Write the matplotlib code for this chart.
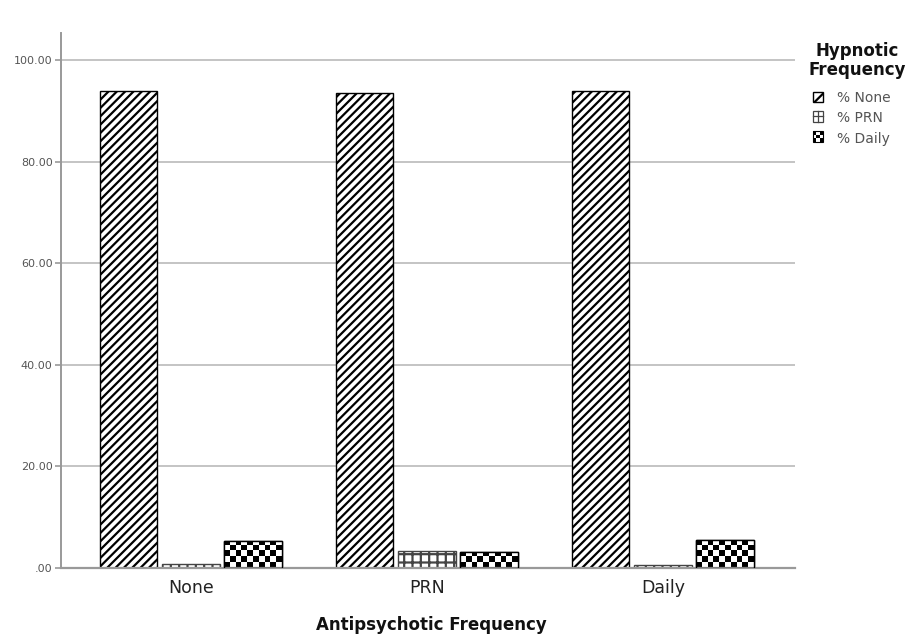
import numpy as np
import matplotlib
matplotlib.use("Agg")
import matplotlib.pyplot as plt
from matplotlib.patches import Rectangle
from matplotlib.lines import Line2D
from matplotlib.legend_handler import HandlerBase

groups = ["None", "PRN", "Daily"]
series = ["% None", "% PRN", "% Daily"]
pct_none = [93.9, 93.5, 94.0]
pct_prn = [0.8, 3.4, 0.5]
pct_daily = [5.3, 3.1, 5.5]
yticks = [0, 20, 40, 60, 80, 100]
ytick_labels = [".00", "20.00", "40.00", "60.00", "80.00", "100.00"]

plt.rcParams["hatch.linewidth"] = 1.6
plt.rcParams["font.family"] = ["DejaVu Sans"]

fig = plt.figure(figsize=(9.06, 6.38), dpi=100)
ax = fig.add_axes([0.0673, 0.1097, 0.8102, 0.838])

x = np.arange(len(groups))
w = 0.245
step = 0.264
grid_c = "#c4c4c4"

ax.set_axisbelow(True)
ax.yaxis.grid(True, color=grid_c, lw=1.4)

b_none = ax.bar(x - step, pct_none, w, facecolor="white", edgecolor="black", lw=1.0, hatch="////")
b_prn = ax.bar(x, pct_prn, w, facecolor="white", edgecolor="#444444", lw=1.0, hatch="++")
b_daily = ax.bar(x + step, pct_daily, w, facecolor="white", edgecolor="black", lw=1.0)

# checkerboard fill for the Daily series
cell_y = 1.15
for bar in b_daily:
    x0, y0 = bar.get_x(), bar.get_y()
    bw, bh = bar.get_width(), bar.get_height()
    nx = 10
    ny = int(np.ceil(bh / cell_y))
    chk = (np.add.outer(np.arange(ny), np.arange(nx)) % 2).astype(float)
    im = ax.imshow(chk, cmap="gray", interpolation="nearest", origin="lower",
                   extent=(x0, x0 + bw, y0, y0 + ny * cell_y), aspect="auto", zorder=2.5)
    im.set_clip_path(bar)
    ax.add_patch(Rectangle((x0, y0), bw, bh, fill=False, edgecolor="black", lw=1.0, zorder=2.6))

ax.set_xlim(-0.55, 2.56)
ax.set_ylim(0, 105.3)
ax.set_xticks(x)
ax.set_xticklabels(groups, fontsize=12.5, color="#222222")
ax.set_yticks(yticks)
ax.set_yticklabels(ytick_labels, fontsize=8, color="#555555")
ax.tick_params(axis="x", length=0, pad=8)
ax.tick_params(axis="y", length=4, color="#999999", width=1.2, pad=2)
for s in ["top", "right"]:
    ax.spines[s].set_visible(False)
ax.spines["left"].set_color("#999999")
ax.spines["left"].set_linewidth(1.4)
ax.spines["bottom"].set_color("#999999")
ax.spines["bottom"].set_linewidth(1.6)
ax.set_xlabel("Antipsychotic Frequency", fontsize=12, fontweight="bold", color="#111111")
ax.xaxis.set_label_coords(0.505, -0.09)


class CheckerHandler(HandlerBase):
    def create_artists(self, legend, orig, xd, yd, width, height, fontsize, trans):
        arts = [Rectangle((xd, yd), width, height, facecolor="white", edgecolor="black", lw=0.8, transform=trans)]
        n = 3
        cw, ch = width / n, height / n
        for i in range(n):
            for j in range(n):
                if (i + j) % 2 == 0:
                    arts.append(Rectangle((xd + i * cw, yd + j * ch), cw, ch, facecolor="black",
                                          edgecolor="none", transform=trans))
        return arts


class GridHandler(HandlerBase):
    def create_artists(self, legend, orig, xd, yd, width, height, fontsize, trans):
        box = Rectangle((xd, yd), width, height, facecolor="white", edgecolor="#444444", lw=0.9, transform=trans)
        h = Line2D([xd, xd + width], [yd + height / 2] * 2, color="#444444", lw=0.9, transform=trans)
        v = Line2D([xd + width / 2] * 2, [yd, yd + height], color="#444444", lw=0.9, transform=trans)
        return [box, h, v]


fig.text(857 / 906, 1 - 42 / 638, "Hypnotic\nFrequency", ha="center", va="top",
         multialignment="center", fontsize=12, fontweight="bold", color="#111111", linespacing=1.05)

h_none = Rectangle((0, 0), 1, 1, facecolor="white", edgecolor="black", hatch="//")
h_prn = Rectangle((0, 0), 1, 1)
h_daily = Rectangle((0, 0), 1, 1)
leg = fig.legend([h_none, h_prn, h_daily], series, loc="upper left",
                 bbox_to_anchor=(813 / 906, 1 - 91 / 638), borderaxespad=0, borderpad=0,
                 frameon=False, fontsize=10,
                 handlelength=0.75, handleheight=0.8, handletextpad=1.0, labelspacing=0.45,
                 handler_map={h_prn: GridHandler(), h_daily: CheckerHandler()})
for t in leg.get_texts():
    t.set_color("#555555")

fig.savefig("out.png", dpi=100)
